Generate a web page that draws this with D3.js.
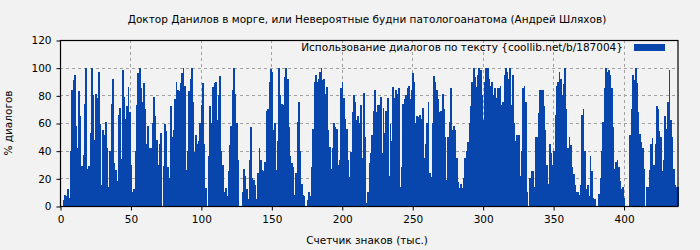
<!DOCTYPE html>
<html><head><meta charset="utf-8">
<script src="https://cdn.jsdelivr.net/npm/d3@7"></script>
<style>body{margin:0;background:#f2f2f2;}svg{display:block;font-family:"DejaVu Sans",sans-serif;}</style>
</head><body><svg id="c" width="700" height="250"></svg>
<script>
const title = "Доктор Данилов в морге, или Невероятные будни патологоанатома (Андрей Шляхов)";
const seriesName = "Использование диалогов по тексту {coollib.net/b/187004}";
const xLabel = "Счетчик знаков (тыс.)";
const yLabel = "% диалогов";
const xTicks = [0,50,100,150,200,250,300,350,400];
const yTicks = [0,20,40,60,80,100,120];
// one value per thousand characters, starting at 0
const values = [
0,0,4,8,7,12,6,40,84,91, 95,58,42,83,65,29,37,74,100,27,
29,53,100,80,48,81,78,97,59,15, 55,51,61,42,14,40,74,92,31,26,
18,66,71,34,98,79,63,72,86,68, 30,10,12,40,73,96,100,85,75,89,
70,45,58,42,42,60,79,65,48,30, 45,53,0,29,59,54,28,20,72,50,
55,77,90,84,83,89,96,100,87,26, 40,83,92,100,75,39,51,45,47,60,
73,89,45,13,0,36,72,60,86,89, 90,62,80,94,40,30,10,13,7,25,
44,58,84,100,81,60,33,0,0,10, 27,22,12,5,33,57,20,19,15,5,
24,42,33,26,25,32,69,70,90,99, 97,55,60,26,47,100,80,74,73,93,
100,92,57,36,31,28,8,24,61,75, 40,16,8,7,0,4,10,7,28,56,
90,95,90,92,97,100,91,92,81,86, 55,43,27,42,60,57,56,30,33,85,
90,78,63,56,33,21,39,68,80,75, 62,65,60,73,35,82,50,2,10,31,
38,51,69,84,68,73,73,79,38,71, 53,69,78,22,59,47,86,78,84,81,
85,14,28,74,77,80,85,87,77,84, 96,90,60,65,64,66,63,71,35,45,
60,75,24,21,60,94,90,84,77,68, 69,81,70,50,19,50,61,85,55,58,
55,35,17,13,16,13,20,35,40,46, 60,72,90,100,93,86,95,100,98,80,
62,90,100,100,92,87,90,80,85,78, 85,85,87,73,75,95,100,97,92,100,
73,95,60,47,51,51,22,40,85,87, 75,10,0,20,25,25,14,50,50,67,
84,84,84,72,55,30,16,45,38,30, 40,66,87,90,97,92,80,88,100,70,
42,50,44,28,23,15,10,10,8,15, 66,70,40,12,15,7,36,25,6,5,
0,0,9,20,40,61,85,100,97,98, 95,85,57,27,32,33,28,18,12,14,
6,0,0,0,51,70,95,91,100,89, 68,52,46,42,27,0,14,14,26,45,
49,30,45,72,70,54,50,25,33,65, 56,75,98,62,50,27,15,14,14
];
const data = values.map((v,i)=>({k:i, v:v}));

const svg = d3.select("#c");
const m = {l:60, r:21.5, t:40, b:44};
const W = 700, H = 250;
const FS = 10.5;
const x = d3.scaleLinear().domain([0, values.length]).range([m.l, W - m.r]);
const y = d3.scaleLinear().domain([0,120]).range([H - m.b, m.t]);

// grid
const grid = svg.append("g").attr("stroke","#a0a0a0").attr("stroke-dasharray","3,3").attr("stroke-width",1);
yTicks.filter(t=>t>0 && t<120).forEach(t=>{
  grid.append("line").attr("x1",m.l).attr("x2",W-m.r).attr("y1",Math.round(y(t))+0.5).attr("y2",Math.round(y(t))+0.5);
});
xTicks.filter(t=>t>0).forEach(t=>{
  grid.append("line").attr("y1",m.t).attr("y2",H-m.b).attr("x1",Math.round(x(t))+0.5).attr("x2",Math.round(x(t))+0.5);
});

// bars
svg.append("g").selectAll("rect").data(data).join("rect")
  .attr("x", d=>x(d.k)).attr("width", d=>x(d.k+1)-x(d.k)+0.3)
  .attr("y", d=>y(d.v)).attr("height", d=>y(0)-y(d.v))
  .attr("fill","#0846ae").attr("shape-rendering","crispEdges");

// frame
svg.append("rect").attr("x",m.l+0.5).attr("y",m.t+0.5).attr("width",W-m.r-m.l-1).attr("height",H-m.b-m.t)
  .attr("fill","none").attr("stroke","#000").attr("stroke-width",1.2);

// axes
const xa = svg.append("g").attr("transform",`translate(0.5,${H-m.b+0.5})`)
  .call(d3.axisBottom(x).tickValues(xTicks).tickSize(4).tickPadding(5));
const ya = svg.append("g").attr("transform",`translate(${m.l+0.5},0.5)`)
  .call(d3.axisLeft(y).tickValues(yTicks).tickSize(4).tickPadding(5));
[xa,ya].forEach(a=>{a.select(".domain").remove();a.selectAll("text").attr("font-size",FS).attr("fill","#000").attr("font-family","DejaVu Sans, sans-serif");a.selectAll("line").attr("stroke","#000");});

// title & labels
svg.append("text").attr("x",367).attr("y",23).attr("text-anchor","middle").attr("font-size",FS).text(title);
svg.append("text").attr("x",367).attr("y",244).attr("text-anchor","middle").attr("font-size",FS).text(xLabel);
svg.append("text").attr("transform","translate(12,123) rotate(-90)").attr("text-anchor","middle").attr("font-size",FS).text(yLabel);

// legend
svg.append("text").attr("x",623).attr("y",51).attr("text-anchor","end").attr("font-size",FS).text(seriesName);
svg.append("rect").attr("x",634).attr("y",44).attr("width",31).attr("height",7).attr("fill","#0846ae");
</script></body></html>
